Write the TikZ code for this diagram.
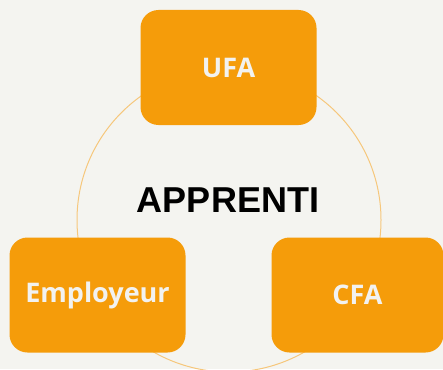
\documentclass[tikz,border=0pt]{standalone}
\usepackage{fontspec}
\setmainfont{Open Sans}
\newfontfamily\apfont{Liberation Sans}
\definecolor{bg}{HTML}{F4F4F0}
\definecolor{boxor}{HTML}{F59C0A}
\definecolor{ringor}{HTML}{F6C77C}
\definecolor{boxtxt}{HTML}{F2F2F0}
\begin{document}
\begin{tikzpicture}[x=1pt,y=-1pt,
  rolebox/.style={fill=boxor, draw=none, rounded corners=18pt, minimum width=176pt, minimum height=115pt, inner sep=0pt,
    text=boxtxt, font=\fontsize{27}{30}\selectfont\bfseries},
  ring/.style={draw=ringor, line width=1pt}]
\useasboundingbox[fill=bg] (0,0) rectangle (443,369);
\draw[ring] (229,220) circle[radius=152];
\node[font=\apfont\fontsize{36}{40}\selectfont\bfseries] (apprenti) at (228,200) {APPRENTI};
\node[rolebox] (ufa) at (228.5,67.5) {UFA};
\node[rolebox] (employeur) at (97.5,295) {Employeur};
\node[rolebox, minimum width=172pt] (cfa) at (357.5,295) {CFA};
\end{tikzpicture}
\end{document}
